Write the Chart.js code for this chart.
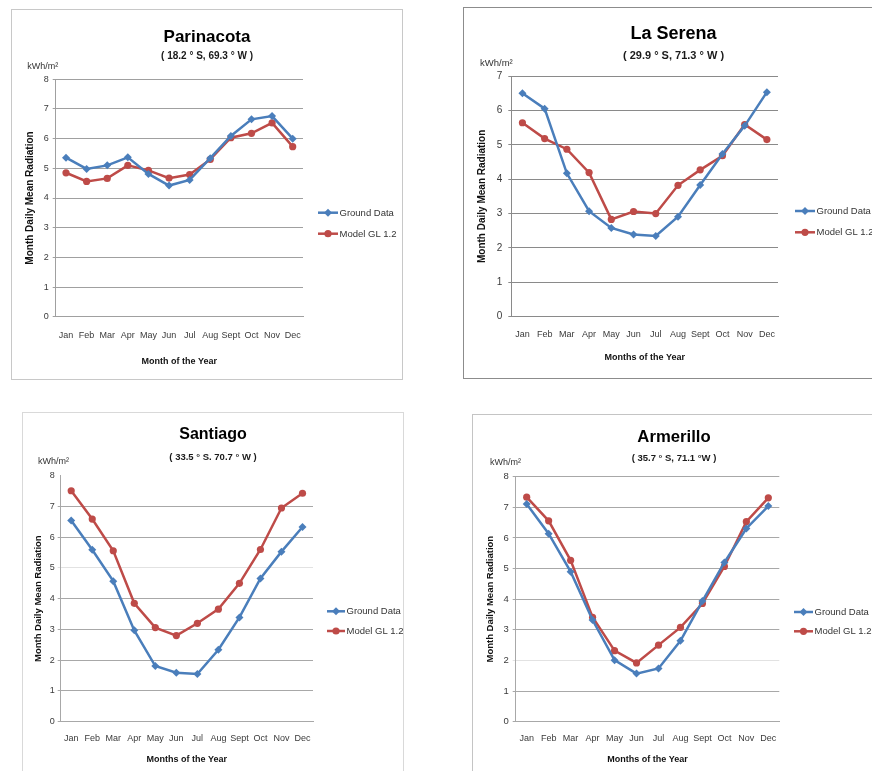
<!DOCTYPE html>
<html><head><meta charset="utf-8">
<script src="https://cdn.jsdelivr.net/npm/chart.js@4.4.1/dist/chart.umd.min.js"></script>
<style>
html,body{margin:0;padding:0;background:#fff;width:872px;height:771px;overflow:hidden;position:relative;}
.panel{position:absolute;box-sizing:border-box;border:1px solid #ccc;background:#fff;}
.panel canvas{position:absolute;left:0;top:0;}
</style></head><body>
<div id="p1" class="panel"><canvas id="c1"></canvas></div>
<div id="p2" class="panel"><canvas id="c2"></canvas></div>
<div id="p3" class="panel"><canvas id="c3"></canvas></div>
<div id="p4" class="panel"><canvas id="c4"></canvas></div>
<script>
// ---------- data ----------
const months = ['Jan','Feb','Mar','Apr','May','Jun','Jul','Aug','Sept','Oct','Nov','Dec'];
const seriesNames = ['Ground Data', 'Model GL 1.2'];
const parinacotaGround = [5.36, 4.98, 5.10, 5.37, 4.81, 4.42, 4.61, 5.34, 6.09, 6.65, 6.76, 6.00];
const parinacotaModel  = [4.85, 4.56, 4.66, 5.10, 4.93, 4.67, 4.79, 5.30, 6.03, 6.18, 6.53, 5.73];
const laSerenaGround   = [6.50, 6.05, 4.17, 3.07, 2.58, 2.39, 2.35, 2.91, 3.83, 4.73, 5.55, 6.53];
const laSerenaModel    = [5.64, 5.18, 4.87, 4.19, 2.83, 3.06, 3.00, 3.82, 4.27, 4.68, 5.59, 5.15];
const santiagoGround   = [6.54, 5.59, 4.57, 2.97, 1.81, 1.59, 1.55, 2.34, 3.39, 4.66, 5.53, 6.33];
const santiagoModel    = [7.51, 6.59, 5.56, 3.85, 3.06, 2.80, 3.20, 3.66, 4.50, 5.60, 6.95, 7.43];
const armerilloGround  = [7.11, 6.14, 4.90, 3.32, 2.01, 1.57, 1.74, 2.64, 3.94, 5.20, 6.31, 7.04];
const armerilloModel   = [7.33, 6.56, 5.27, 3.41, 2.32, 1.92, 2.50, 3.08, 3.86, 5.07, 6.53, 7.31];
const yMaxes = {parinacota: 8, laSerena: 7, santiago: 8, armerillo: 8};

const FONT = '"Liberation Sans", Arial, sans-serif';
const BLUE = '#4A7EBB';
const RED = '#BE4B48';

// ---------- text / legend plugin ----------
const panelText = {
  id: 'panelText',
  afterDraw(chart, args, o) {
    const ctx = chart.ctx;
    ctx.save();
    const cx = chart.width / 2;
    ctx.textBaseline = 'alphabetic';
    ctx.textAlign = 'center';
    ctx.fillStyle = '#000';
    ctx.font = 'bold ' + o.titleSize + 'px ' + FONT;
    ctx.fillText(o.title, cx, o.titleY);
    ctx.fillStyle = '#1a1a1a';
    ctx.font = 'bold ' + o.subSize + 'px ' + FONT;
    ctx.fillText(o.subtitle, cx, o.subY);
    ctx.textAlign = 'left';
    ctx.fillStyle = '#333';
    ctx.font = o.unitSize + 'px ' + FONT;
    ctx.fillText('kWh/m²', o.unitX, o.unitY);
    chart.data.datasets.forEach((ds, i) => {
      const y = o.legY + i * o.legGap;
      ctx.strokeStyle = ds.borderColor;
      ctx.lineWidth = 2.5;
      ctx.beginPath(); ctx.moveTo(o.legX, y); ctx.lineTo(o.legX + o.legLen, y); ctx.stroke();
      const mx = o.legX + o.legLen / 2;
      ctx.fillStyle = ds.backgroundColor;
      ctx.beginPath();
      if (ds.pointStyle === 'rectRot') {
        const r = ds.pointRadius;
        ctx.moveTo(mx, y - r); ctx.lineTo(mx + r, y); ctx.lineTo(mx, y + r); ctx.lineTo(mx - r, y); ctx.closePath();
      } else {
        ctx.arc(mx, y, ds.pointRadius, 0, Math.PI * 2);
      }
      ctx.fill();
      ctx.fillStyle = '#333';
      ctx.font = o.legSize + 'px ' + FONT;
      ctx.textBaseline = 'middle';
      ctx.fillText(ds.label, o.legX + o.legLen + 1.5, y + 0.5);
      ctx.textBaseline = 'alphabetic';
    });
    ctx.restore();
  }
};

// ---------- panel layouts ----------
const panels = [
  { id: 'c1', div: 'p1', box: {left: 11, top: 9, w: 392, h: 371}, border: '#c8c8c8', grid: '#a0a0a0',
    ground: parinacotaGround, model: parinacotaModel, yMax: yMaxes.parinacota,
    area: {left: 43.7, top: 69.3, right: 291, bottom: 306.7},
    xTickPad: 13.9, xH: 50.4, xTitle: 'Month of the Year', yTitleSize: 10, yTitlePad: 12.7, yTickPad: 4, yTickSize: 9,
    faint: [],
    text: {title: 'Parinacota', titleSize: 17, titleY: 31.7, subtitle: '( 18.2 ° S, 69.3 ° W )', subSize: 10, subY: 49.3,
           unitSize: 9, unitX: 15.3, unitY: 58.5, legX: 306, legY: 202.7, legGap: 21, legLen: 20, legSize: 9.5} },
  { id: 'c2', div: 'p2', box: {left: 463, top: 7, w: 421, h: 372}, border: '#8c8c8c', grid: '#8a8a8a',
    ground: laSerenaGround, model: laSerenaModel, yMax: yMaxes.laSerena,
    area: {left: 47.3, top: 68, right: 314, bottom: 308.7},
    xTickPad: 12.9, xH: 46.7, xTitle: 'Months of the Year', yTitleSize: 10, yTitlePad: 12.7, yTickPad: 6, yTickSize: 10,
    faint: [],
    text: {title: 'La Serena', titleSize: 18, titleY: 31.3, subtitle: '( 29.9 ° S, 71.3 ° W )', subSize: 11, subY: 51,
           unitSize: 9.5, unitX: 16, unitY: 58, legX: 331, legY: 203, legGap: 21.3, legLen: 20, legSize: 9.5} },
  { id: 'c3', div: 'p3', box: {left: 22, top: 412, w: 382, h: 380}, border: '#d9d9d9', grid: '#a8a8a8',
    ground: santiagoGround, model: santiagoModel, yMax: yMaxes.santiago,
    area: {left: 37.7, top: 62.7, right: 290, bottom: 308.7},
    xTickPad: 11.2, xH: 43, xTitle: 'Months of the Year', yTitleSize: 9.5, yTitlePad: 9.6, yTickPad: 3, yTickSize: 9,
    faint: [5, 8],
    text: {title: 'Santiago', titleSize: 16, titleY: 26.3, subtitle: '( 33.5 ° S. 70.7 ° W )', subSize: 9.5, subY: 46.5,
           unitSize: 9, unitX: 15, unitY: 50.5, legX: 304, legY: 198.3, legGap: 19.7, legLen: 18, legSize: 9.5} },
  { id: 'c4', div: 'p4', box: {left: 472, top: 414, w: 404, h: 378}, border: '#c4c4c4', grid: '#a8a8a8',
    ground: armerilloGround, model: armerilloModel, yMax: yMaxes.armerillo,
    area: {left: 42.7, top: 61.7, right: 306.3, bottom: 306.7},
    xTickPad: 11.2, xH: 43, xTitle: 'Months of the Year', yTitleSize: 9.5, yTitlePad: 11.3, yTickPad: 4, yTickSize: 9.5,
    faint: [2],
    text: {title: 'Armerillo', titleSize: 16.7, titleY: 26.7, subtitle: '( 35.7 ° S, 71.1 °W )', subSize: 9.5, subY: 45.5,
           unitSize: 9, unitX: 17, unitY: 50, legX: 321, legY: 197, legGap: 19.3, legLen: 19, legSize: 9.5} }
];

panels.forEach(p => {
  const div = document.getElementById(p.div);
  Object.assign(div.style, {left: p.box.left + 'px', top: p.box.top + 'px', width: p.box.w + 'px', height: p.box.h + 'px', borderColor: p.border});
  const cw = p.box.w - 2, ch = p.box.h - 2;
  const el = document.getElementById(p.id);
  el.width = cw; el.height = ch;
  el.style.width = cw + 'px'; el.style.height = ch + 'px';
  new Chart(el, {
    type: 'line',
    data: {
      labels: months,
      datasets: [
        {label: seriesNames[0], data: p.ground, borderColor: BLUE, backgroundColor: BLUE, pointStyle: 'rectRot',
         pointRadius: 4, pointBorderWidth: 0, borderWidth: 2.5, tension: 0},
        {label: seriesNames[1], data: p.model, borderColor: RED, backgroundColor: RED, pointStyle: 'circle',
         pointRadius: 3.6, pointBorderWidth: 0, borderWidth: 2.5, tension: 0}
      ]
    },
    options: {
      responsive: false, animation: false, devicePixelRatio: 1,
      layout: {padding: {left: 0, top: p.area.top, right: cw - p.area.right, bottom: ch - p.area.bottom - p.xH}},
      plugins: {legend: {display: false}, tooltip: {enabled: false}, title: {display: false}, panelText: p.text},
      scales: {
        x: {
          offset: true,
          grid: {display: false, drawTicks: false},
          border: {display: true, color: p.grid},
          ticks: {autoSkip: false, maxRotation: 0, minRotation: 0, padding: p.xTickPad, color: '#3a3a3a', font: {family: FONT, size: 9}},
          title: {display: true, text: p.xTitle, color: '#111', padding: 0, font: {family: FONT, size: 9, weight: 'bold'}},
          afterFit(s) { s.height = p.xH; }
        },
        y: {
          min: 0, max: p.yMax,
          ticks: {stepSize: 1, padding: p.yTickPad, color: '#3a3a3a', font: {family: FONT, size: p.yTickSize}},
          grid: {color: c => p.faint.includes(c.tick && c.tick.value) ? (c.tick.value === 8 ? 'rgba(0,0,0,0)' : '#e2e2e2') : p.grid, tickLength: 3, drawTicks: true},
          border: {display: true, color: p.grid},
          title: {display: true, text: 'Month Daily Mean Radiation', color: '#111', padding: {top: p.yTitlePad, bottom: 0}, font: {family: FONT, size: p.yTitleSize, weight: 'bold'}},
          afterFit(s) { s.width = p.area.left; }
        }
      }
    },
    plugins: [panelText]
  });
});
</script>
</body></html>
